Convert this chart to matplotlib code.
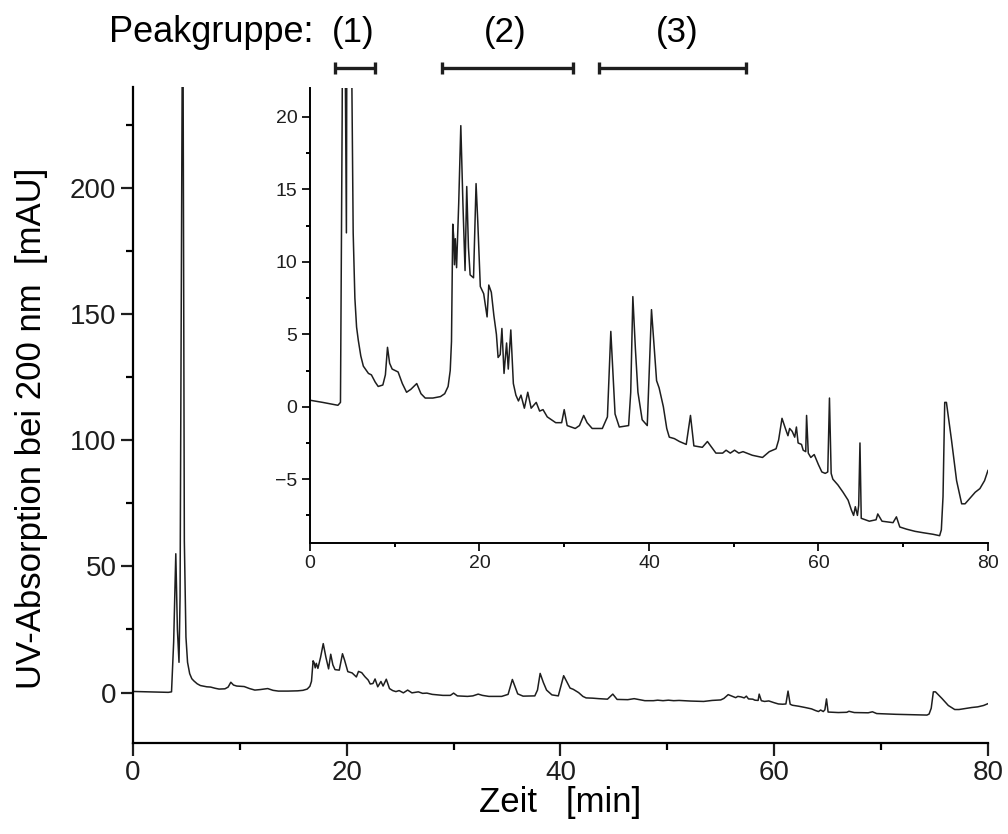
import numpy as np
import matplotlib
matplotlib.use('Agg')
import matplotlib.pyplot as plt
from matplotlib.ticker import MultipleLocator
import matplotlib.transforms as mtransforms

plt.rcParams['font.family'] = ['Liberation Sans', 'DejaVu Sans']

# chromatogram (time in min, absorbance in mAU)
zeit = [0.0, 1.5, 3.3, 3.6, 3.8, 4.0, 4.15, 4.3, 4.4, 4.65, 4.8, 4.95, 5.1, 5.3, 5.5,
        5.7, 6.0, 6.3, 6.9, 7.25, 7.7, 8.05, 8.6, 8.9, 9.15, 9.4, 9.7, 10.4, 10.9, 11.4,
        11.9, 12.6, 13.1, 13.6, 14.5, 15.4, 15.9, 16.3, 16.55, 16.7, 16.8, 16.85, 16.95,
        17.05, 17.15, 17.3, 17.55, 17.8, 18.05, 18.3, 18.5, 18.7, 18.9, 19.3, 19.6, 19.8,
        20.1, 20.5, 20.9, 21.1, 21.4, 21.7, 22.0, 22.2, 22.45, 22.65, 22.9, 23.2, 23.4,
        23.7, 24.0, 24.3, 24.6, 24.9, 25.3, 25.7, 26.1, 26.7, 27.1, 27.5, 28.0, 28.5,
        29.0, 29.7, 30.0, 30.35, 31.3, 31.8, 32.3, 32.7, 33.3, 34.5, 35.1, 35.5, 36.0,
        36.5, 37.6, 37.85, 38.1, 38.4, 38.7, 39.2, 39.8, 40.3, 40.9, 41.2, 41.7, 42.1,
        42.4, 43.0, 43.6, 44.4, 44.9, 45.3, 46.3, 46.9, 47.9, 48.7, 49.1, 49.6, 50.1,
        50.6, 51.1, 52.2, 53.4, 54.2, 55.0, 55.3, 55.7, 56.1, 56.4, 56.6, 56.9, 57.2,
        57.4, 57.6, 58.0, 58.2, 58.5, 58.6, 58.8, 59.1, 59.5, 60.0, 60.4, 60.8, 61.1,
        61.3, 61.5, 61.7, 62.3, 62.9, 63.5, 63.9, 64.15, 64.35, 64.6, 64.75, 64.9, 65.05,
        66.0, 66.8, 67.0, 67.5, 68.8, 69.2, 69.6, 70.4, 71.4, 72.4, 73.5, 74.3, 74.5,
        74.7, 74.9, 75.1, 75.4, 75.7, 76.3, 76.9, 77.3, 77.9, 78.5, 79.05, 79.6, 80.0]
absorption = [0.45, 0.3, 0.1, 0.3, 20, 55, 25, 12, 38, 300, 60, 22, 12, 7.5, 5.5,
              4.6, 3.5, 2.8, 2.3, 2.2, 1.7, 1.4, 1.5, 2.2, 4.1, 3.0, 2.6, 2.4, 1.6, 1.0,
              1.2, 1.6, 0.9, 0.6, 0.6, 0.7, 0.9, 1.4, 2.5, 4.5, 9.7, 12.6, 11.8,
              9.8, 11.6, 9.6, 14.0, 19.4, 14.0, 9.4, 15.2, 11.0, 9.1, 8.9, 15.4, 12.8,
              8.3, 7.8, 6.2, 8.4, 7.9, 6.3, 5.0, 3.4, 3.6, 5.4, 2.3, 4.4, 2.6,
              5.3, 1.6, 0.8, 0.4, 0.8, -0.1, 1.0, -0.1, 0.3, -0.3, -0.2, -0.7, -0.9,
              -1.1, -1.1, -0.2, -1.3, -1.5, -1.3, -0.6, -1.1, -1.5, -1.5, -0.7, 5.2, -0.5,
              -1.4, -1.3, 1.0, 7.6, 4.0, 1.0, -0.9, -1.3, 6.7, 1.8, 1.3, 0.0, -1.5,
              -2.1, -2.2, -2.4, -2.6, -0.6, -2.7, -2.8, -2.4, -3.2, -3.2, -3.0, -3.2, -3.0,
              -3.2, -3.1, -3.35, -3.5, -3.1, -2.9, -2.3, -0.8, -1.5, -2.0, -1.5, -1.7, -2.1,
              -1.4, -2.5, -2.6, -3.0, -3.1, -0.6, -3.2, -3.5, -3.3, -4.0, -4.5, -4.6, -4.5,
              0.6, -4.6, -5.0, -5.4, -5.9, -6.45, -7.15, -7.5, -6.9, -7.5, -6.8, -2.5, -7.7,
              -7.9, -7.8, -7.4, -7.9, -8.0, -7.6, -8.3, -8.45, -8.6, -8.7, -8.8, -8.9, -8.5,
              -6.2, 0.3, 0.3, -1.0, -2.3, -5.1, -6.7, -6.7, -6.3, -5.9, -5.65, -5.1, -4.4]

# peak groups marked above the inset
group_labels = ['(1)', '(2)', '(3)']
group_start = [3.0, 15.6, 34.1]
group_end = [7.7, 31.0, 51.4]
group_center = [5.1, 23.0, 43.3]

line_color = '#1e1e1e'


def style_axes(ax, major_len, minor_len, width, size, pad):
    ax.spines['right'].set_color('none')
    ax.spines['top'].set_color('none')
    ax.spines['left'].set_linewidth(width)
    ax.spines['bottom'].set_linewidth(width)
    ax.tick_params(which='major', direction='out', length=major_len, width=width,
                   labelsize=size, pad=pad, colors='#1e1e1e')
    ax.tick_params(which='minor', direction='out', length=minor_len, width=width)
    ax.patch.set_alpha(0)


fig = plt.figure(figsize=(10.08, 8.34), dpi=100)

# main chromatogram
ax = fig.add_axes([0.132, 0.109, 0.848, 0.787])
ax.plot(zeit, absorption, color=line_color, linewidth=1.1)
ax.set_xlim(0, 80)
ax.set_ylim(-20, 240)
ax.xaxis.set_major_locator(MultipleLocator(20))
ax.xaxis.set_minor_locator(MultipleLocator(10))
ax.yaxis.set_major_locator(MultipleLocator(50))
ax.yaxis.set_minor_locator(MultipleLocator(25))
style_axes(ax, 9, 5, 1.6, 20, 3)
ax.set_xlabel('Zeit   [min]', fontsize=25)
ax.set_ylabel('UV-Absorption bei 200 nm  [mAU]', fontsize=25)
ax.xaxis.set_label_coords(0.5, -0.065)
ax.yaxis.set_label_coords(-0.1, 0.48)

# zoomed inset
ax_in = fig.add_axes([0.3075, 0.349, 0.6726, 0.5455])
ax_in.plot(zeit, absorption, color=line_color, linewidth=1.1)
ax_in.set_xlim(0, 80)
ax_in.set_ylim(-9.4, 22)
ax_in.xaxis.set_major_locator(MultipleLocator(20))
ax_in.xaxis.set_minor_locator(MultipleLocator(10))
ax_in.yaxis.set_major_locator(MultipleLocator(5))
ax_in.yaxis.set_minor_locator(MultipleLocator(2.5))
style_axes(ax_in, 6, 3, 1.4, 14, 3)

# peak group brackets
trans = mtransforms.blended_transform_factory(ax_in.transData, ax_in.transAxes)
for lab, x0, x1, xc in zip(group_labels, group_start, group_end, group_center):
    ax_in.plot([x0, x1], [1.044, 1.044], color=line_color, linewidth=2.4,
               transform=trans, clip_on=False, solid_capstyle='butt')
    for xe in (x0, x1):
        ax_in.plot([xe, xe], [1.030, 1.058], color=line_color, linewidth=2.4,
                   transform=trans, clip_on=False, solid_capstyle='butt')
    ax_in.text(xc, 1.123, lab, transform=trans, ha='center', va='center', fontsize=25)
ax_in.text(0.4, 1.123, 'Peakgruppe:', transform=trans, ha='right', va='center', fontsize=26)

fig.savefig('out.png', dpi=100)
